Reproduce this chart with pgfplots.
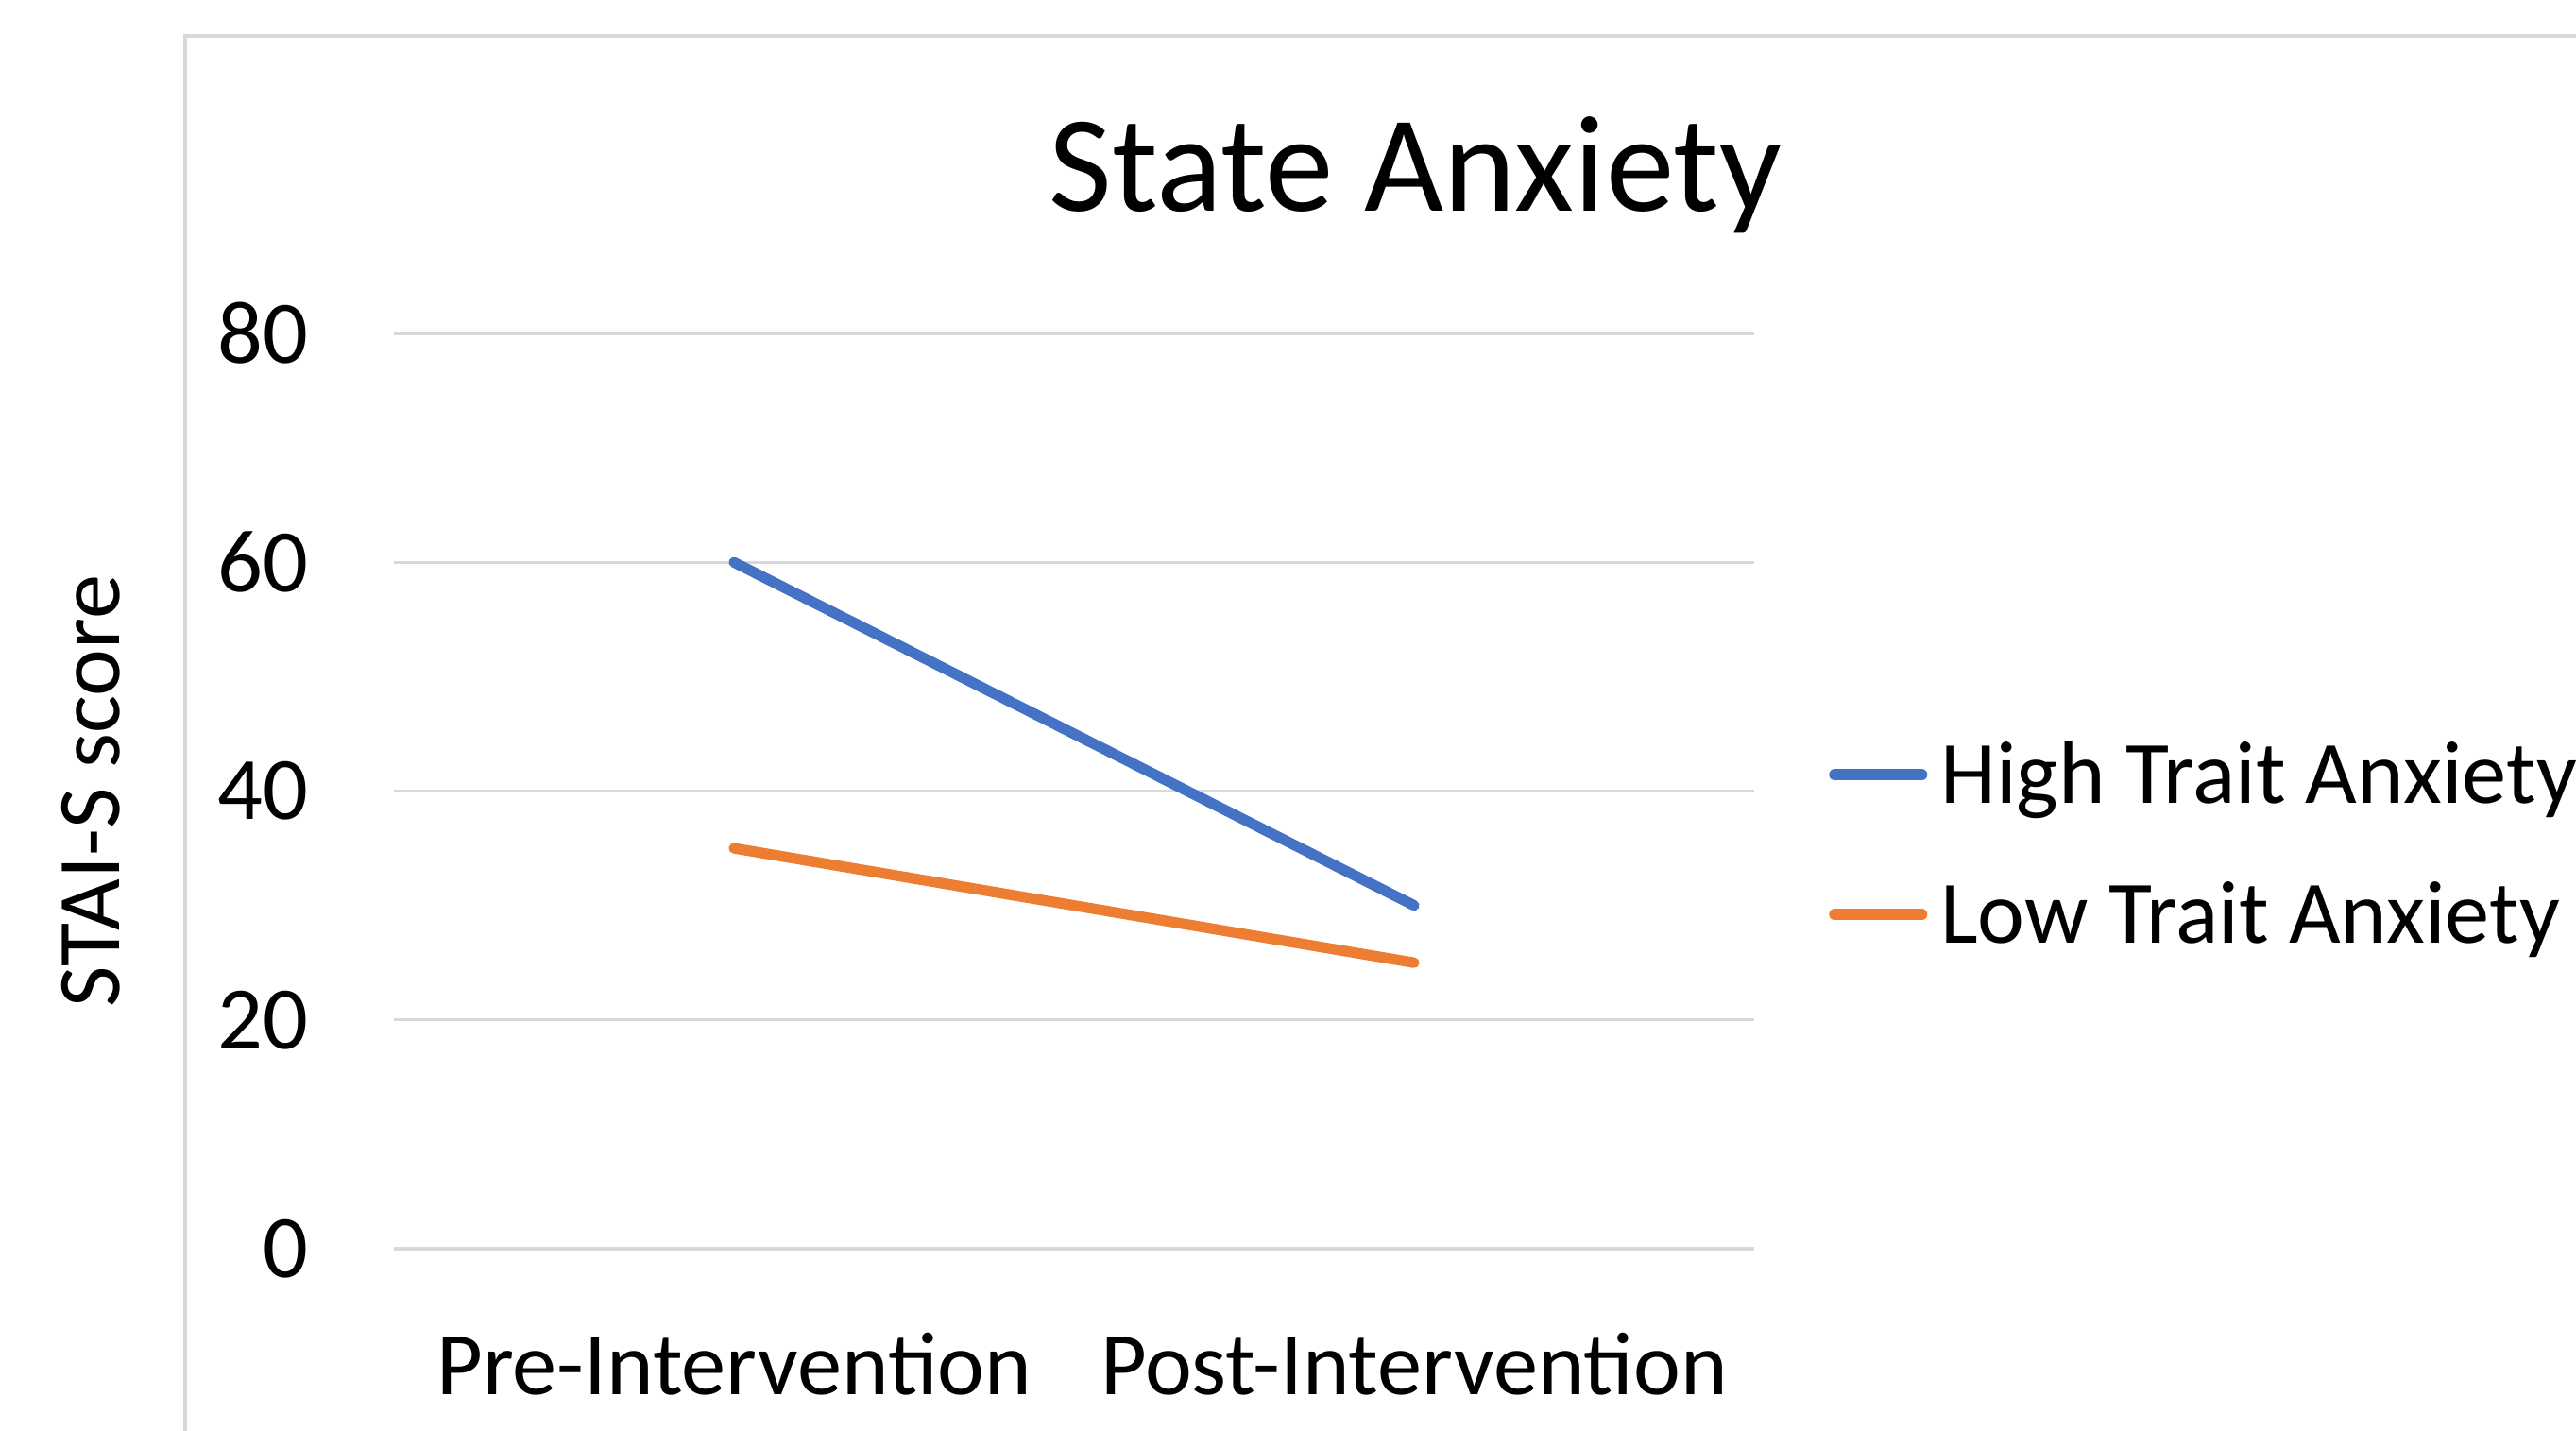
\documentclass[border=0pt]{standalone}
\usepackage{fontspec}
\setmainfont{Carlito}
\usepackage{pgfplots}
\pgfplotsset{compat=1.18}

\definecolor{xlblue}{HTML}{4472C4}
\definecolor{xlorange}{HTML}{ED7D31}
\definecolor{xlgrid}{HTML}{D9D9D9}

\begin{document}
\begin{tikzpicture}
  % page: 2727x1514 px at 4 px per pt
  \useasboundingbox (0,0) rectangle (681.75pt,378.5pt);
  % chart frame, only its left and top edges are on the page
  \draw[xlgrid, line width=1pt] (49pt,-20pt) |- (720pt,369pt);

  \begin{axis}[
      at={(104.25pt,48pt)}, anchor=south west,
      scale only axis,
      width=360pt, height=242.25pt,
      xmin=-0.5, xmax=1.5,
      ymin=0, ymax=80,
      xtick=data,
      xticklabels={Pre-Intervention, Post-Intervention},
      ytick={0,20,40,60,80},
      ymajorgrids,
      major grid style={xlgrid, line width=0.85pt},
      axis line style={draw=none},
      tick style={draw=none},
      font=\fontsize{23.6pt}{28pt}\selectfont,
      /pgf/number format/assume math mode=true,
      yticklabel style={anchor=east, inner sep=0pt, xshift=-22.5pt},
      xticklabel style={anchor=base, inner sep=0pt, yshift=-38.5pt},
      title={State Anxiety},
      title style={at={(axis description cs:0.751,1.109)}, anchor=base,
                   inner sep=0pt, font=\fontsize{36.3pt}{40pt}\selectfont},
      ylabel={STAI-S score},
      ylabel style={at={(axis description cs:-0.223,0.5)}, anchor=center,
                    inner sep=0pt},
      legend style={draw=none, fill=none, inner sep=0pt,
                    at={(axis description cs:1.0545,0.4407)}, anchor=west,
                    font=\fontsize{23.6pt}{28pt}\selectfont,
                    row sep=19.3pt,
                    /tikz/every odd column/.append style={column sep=3.5pt},
                    nodes={inner sep=0pt, anchor=base west}},
      legend cell align=left,
      legend image code/.code={
        \draw[#1, line width=3pt, line cap=round] (1.5pt,7.6pt) -- (24.5pt,7.6pt);
      },
    ]
    \addplot[xlblue, line width=2.8pt, line cap=round] coordinates {
      (0, 60)
      (1, 30)
    };
    \addlegendentry{High Trait Anxiety}
    \addplot[xlorange, line width=2.8pt, line cap=round] coordinates {
      (0, 35)
      (1, 25)
    };
    \addlegendentry{Low Trait Anxiety}
  \end{axis}
\end{tikzpicture}
\end{document}
